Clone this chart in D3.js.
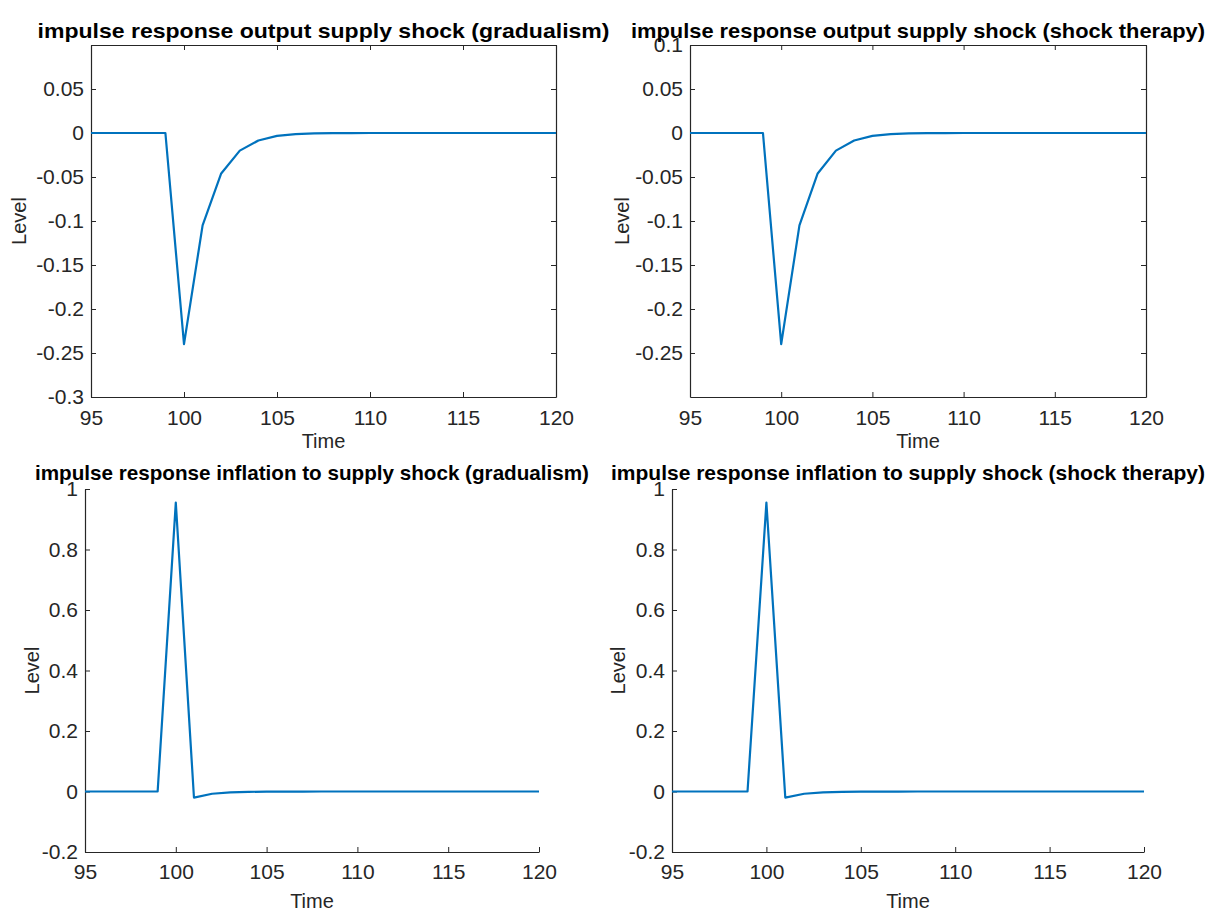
<!DOCTYPE html>
<html>
<head>
<meta charset="utf-8">
<script src="https://cdn.jsdelivr.net/npm/d3@7"></script>
<style>
  body { margin: 0; background: #fff; }
  svg { display: block; font-family: "Liberation Sans", Arial, sans-serif; }
  .tick text { fill: #262626; font-size: 21px; }
  .domain, .tick line { stroke: #262626; }
</style>
</head>
<body>
<svg id="chart" width="1206" height="911"></svg>
<script>
// values
const time = [95, 96, 97, 98, 99, 100, 101, 102, 103, 104, 105, 106, 107, 108, 109, 110,
              111, 112, 113, 114, 115, 116, 117, 118, 119, 120];

const outputGradualism = [0, 0, 0, 0, 0, -0.240, -0.105, -0.046, -0.020, -0.0085, -0.0033, -0.0012,
                          -0.0005, -0.0002, -0.0001, 0, 0, 0, 0, 0, 0, 0, 0, 0, 0, 0];
const outputShockTherapy = [0, 0, 0, 0, 0, -0.240, -0.105, -0.046, -0.020, -0.0085, -0.0033, -0.0012,
                            -0.0005, -0.0002, -0.0001, 0, 0, 0, 0, 0, 0, 0, 0, 0, 0, 0];
const inflationGradualism = [0, 0, 0, 0, 0, 0.955, -0.020, -0.0075, -0.003, -0.0012, -0.0005, -0.0002,
                             -0.0001, 0, 0, 0, 0, 0, 0, 0, 0, 0, 0, 0, 0, 0];
const inflationShockTherapy = [0, 0, 0, 0, 0, 0.955, -0.020, -0.0075, -0.003, -0.0012, -0.0005, -0.0002,
                               -0.0001, 0, 0, 0, 0, 0, 0, 0, 0, 0, 0, 0, 0, 0];

const xTicks = [95, 100, 105, 110, 115, 120];
const outputTicksLeft = [-0.3, -0.25, -0.2, -0.15, -0.1, -0.05, 0, 0.05];
const outputTicksRight = [-0.25, -0.2, -0.15, -0.1, -0.05, 0, 0.05, 0.1];
const inflationTicks = [-0.2, 0, 0.2, 0.4, 0.6, 0.8, 1];

const titles = [
  "impulse response output supply shock (gradualism)",
  "impulse response output supply shock (shock therapy)",
  "impulse response inflation to supply shock (gradualism)",
  "impulse response inflation to supply shock (shock therapy)"
];

const svg = d3.select("#chart");

const panels = [
  { title: titles[0], values: outputGradualism, yDomain: [-0.3, 0.1], yTicks: outputTicksLeft,
    box: true, left: 91, right: 556, top: 45, bottom: 397, titleW: 572, titleY: 38,
    levelX: 19, timeDy: 51, tickPadX: 13 },
  { title: titles[1], values: outputShockTherapy, yDomain: [-0.3, 0.1], yTicks: outputTicksRight,
    box: true, left: 690, right: 1146, top: 45, bottom: 397, titleW: 574, titleY: 38,
    levelX: 622, timeDy: 51, tickPadX: 13 },
  { title: titles[2], values: inflationGradualism, yDomain: [-0.2, 1], yTicks: inflationTicks,
    box: false, left: 85, right: 539, top: 489, bottom: 852, titleW: 554, titleY: 480,
    levelX: 32, timeDy: 56, tickPadX: 12 },
  { title: titles[3], values: inflationShockTherapy, yDomain: [-0.2, 1], yTicks: inflationTicks,
    box: false, left: 672, right: 1144, top: 489, bottom: 852, titleW: 594, titleY: 480,
    levelX: 618, timeDy: 56, tickPadX: 12 }
];

const fmt = d => String(+d.toFixed(2));

panels.forEach(p => {
  const x = d3.scaleLinear().domain([95, 120]).range([p.left, p.right]);
  const y = d3.scaleLinear().domain(p.yDomain).range([p.bottom, p.top]);

  const g = svg.append("g");

  g.append("g")
    .attr("transform", `translate(0,${p.bottom})`)
    .call(d3.axisBottom(x).tickValues(xTicks).tickFormat(fmt)
      .tickSizeInner(-5).tickSizeOuter(0).tickPadding(p.tickPadX));

  g.append("g")
    .attr("transform", `translate(${p.left},0)`)
    .call(d3.axisLeft(y).tickValues(p.yTicks).tickFormat(fmt)
      .tickSizeInner(-5).tickSizeOuter(0).tickPadding(7));

  if (p.box) {
    g.append("g")
      .attr("transform", `translate(0,${p.top})`)
      .call(d3.axisTop(x).tickValues(xTicks).tickFormat("").tickSizeInner(-5).tickSizeOuter(0));
    g.append("g")
      .attr("transform", `translate(${p.right},0)`)
      .call(d3.axisRight(y).tickValues(p.yTicks).tickFormat("").tickSizeInner(-5).tickSizeOuter(0));
  }

  g.selectAll(".domain").attr("stroke-width", 1.2);

  const line = d3.line().x((d, i) => x(time[i])).y(d => y(d));
  g.append("path")
    .datum(p.values)
    .attr("fill", "none")
    .attr("stroke", "#0072BD")
    .attr("stroke-width", 2.2)
    .attr("stroke-linejoin", "round")
    .attr("d", line);

  g.append("text")
    .attr("x", (p.left + p.right) / 2 - p.titleW / 2)
    .attr("y", p.titleY)
    .attr("textLength", p.titleW)
    .attr("lengthAdjust", "spacingAndGlyphs")
    .style("font-size", "21px")
    .style("font-weight", "bold")
    .attr("fill", "#000")
    .text(p.title);

  g.append("text")
    .attr("x", (p.left + p.right) / 2)
    .attr("y", p.bottom + p.timeDy)
    .attr("text-anchor", "middle")
    .style("font-size", "20px")
    .attr("fill", "#262626")
    .text("Time");

  g.append("text")
    .attr("transform", `translate(${p.levelX},${(p.top + p.bottom) / 2}) rotate(-90)`)
    .attr("text-anchor", "middle")
    .attr("dy", "0.35em")
    .style("font-size", "20px")
    .attr("fill", "#262626")
    .text("Level");
});
</script>
</body>
</html>
